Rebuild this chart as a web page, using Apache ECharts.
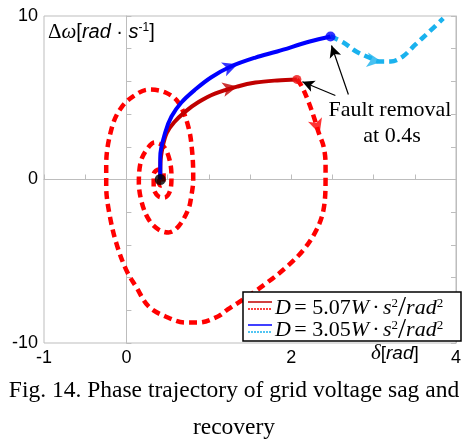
<!DOCTYPE html>
<html>
<head>
<meta charset="utf-8">
<script src="https://cdn.jsdelivr.net/npm/echarts@6/dist/echarts.min.js"></script>
<style>
  html, body { margin: 0; padding: 0; background: #fff; }
  #chart { width: 464px; height: 444px; }
</style>
</head>
<body>
<div id="chart"></div>
<script>
// Phase trajectories: δ [rad] on x, Δω [rad/s] on y

// D = 5.07: during the sag (solid) and after fault removal (dashed)
const sagD507 = [
  [0.411, 0], [0.413, 1.0], [0.44, 2.0], [0.49, 2.85], [0.58, 3.5],
  [0.715, 4.15], [0.871, 4.72], [1.074, 5.25], [1.35, 5.69], [1.566, 5.93],
  [1.830, 6.06], [2.069, 6.12]
];
const recoveryD507 = [
  [2.069, 6.12], [2.129, 5.69], [2.213, 4.71], [2.285, 3.67], [2.333, 2.87],
  [2.393, 2.02], [2.417, 0.92], [2.417, 0], [2.393, -1.83], [2.309, -3.06],
  [2.153, -4.28], [1.950, -5.32], [1.710, -6.30], [1.470, -7.16], [1.230, -7.95],
  [1.110, -8.38], [0.870, -8.75], [0.715, -8.75], [0.475, -8.38], [0.271, -7.77],
  [0.115, -6.54], [-0.005, -5.50], [-0.125, -3.85], [-0.209, -2.02], [-0.245, -0.43],
  [-0.245, 0.92], [-0.173, 3.24], [-0.053, 4.46], [0.115, 5.20], [0.271, 5.50],
  [0.475, 5.32], [0.631, 4.71], [0.751, 3.24], [0.799, 1.65], [0.811, 0],
  [0.787, -1.04], [0.751, -1.83], [0.631, -2.87], [0.511, -3.24], [0.391, -3.06],
  [0.271, -2.45], [0.187, -1.41], [0.151, -0.18], [0.175, 1.10], [0.247, 1.83],
  [0.343, 2.26], [0.451, 2.02], [0.523, 1.22], [0.547, 0.18], [0.535, -0.61],
  [0.463, -1.10], [0.391, -1.04], [0.331, -0.49], [0.331, 0.31], [0.391, 0.61],
  [0.451, 0.37], [0.451, -0.24], [0.415, -0.37], [0.391, -0.12], [0.411, 0]
];

// D = 3.05: during the sag (solid) and after fault removal (dashed)
const sagD305 = [
  [0.411, 0], [0.411, 1.41], [0.471, 2.87], [0.547, 3.85], [0.667, 4.71],
  [0.835, 5.50], [1.026, 6.24], [1.266, 6.91], [1.566, 7.46], [1.830, 7.83],
  [2.225, 8.44], [2.477, 8.75]
];
const recoveryD305 = [
  [2.477, 8.75], [2.633, 8.38], [2.789, 7.83], [2.945, 7.46], [3.065, 7.22],
  [3.209, 7.22], [3.353, 7.52], [3.509, 8.26], [3.665, 8.99], [3.845, 9.85]
];

// Direction arrows placed on the trajectories
const arrowSagD305 = [1.35, 7.05];
const arrowSagD507 = [1.35, 5.69];
const arrowRecD305 = [3.10, 7.20];
const arrowRecD507 = [2.345, 2.80];

// Key states
const equilibrium = [0.411, 0];
const clearD507 = [2.069, 6.12];
const clearD305 = [2.477, 8.75];

// Annotation leader lines: [from, to]
const noteToD305 = [[2.694, 5.20], [2.489, 8.20]];
const noteToD507 = [[2.536, 5.14], [2.135, 5.98]];

// Axis ticks
const xLabelled = [-1, 0, 2, 4];
const yLabelled = [-10, 0, 10];

const axisGray = '#bdbdbd';
const serif = '"Liberation Serif", "Times New Roman", serif';
const sans = '"Liberation Sans", Arial, sans-serif';

const chart = echarts.init(document.getElementById('chart'), null, { renderer: 'canvas' });

const dashed = { width: 4.5, type: [8, 5] };

function legendRich() {
  return {
    i: { fontFamily: serif, fontStyle: 'italic', fontSize: 22, fill: '#000', lineHeight: 22 },
    n: { fontFamily: serif, fontSize: 22, fill: '#000', lineHeight: 22 },
    sup: { fontFamily: serif, fontSize: 13, fill: '#000', verticalAlign: 'top', lineHeight: 22 },
    sl: { fontFamily: serif, fontSize: 29, fill: '#000', lineHeight: 22 }
  };
}

chart.setOption({
  animation: false,
  backgroundColor: '#fff',
  grid: {
    left: 44, right: 3, top: 16, bottom: 101,
    show: true, borderColor: axisGray, borderWidth: 1, backgroundColor: 'transparent'
  },
  xAxis: {
    type: 'value', min: -1, max: 4, interval: 0.5,
    axisLine: { show: true, lineStyle: { color: axisGray, width: 1 } },
    axisTick: { show: true, inside: true, length: 5, lineStyle: { color: axisGray } },
    splitLine: { show: false },
    axisLabel: {
      color: '#000', fontFamily: sans, fontSize: 18, margin: 6,
      formatter: v => (xLabelled.includes(v) ? String(v) : '')
    }
  },
  yAxis: [{
    type: 'value', min: -10, max: 10, interval: 2,
    axisLine: { show: true, lineStyle: { color: axisGray, width: 1 } },
    axisTick: { show: true, inside: true, length: 5, lineStyle: { color: axisGray } },
    splitLine: { show: false },
    axisLabel: {
      color: '#000', fontFamily: sans, fontSize: 18, margin: 6,
      formatter: v => (yLabelled.includes(v) ? String(v) : '')
    }
  }, {
    type: 'value', min: -10, max: 10, interval: 2, position: 'right',
    axisLine: { show: true, lineStyle: { color: axisGray, width: 1 } },
    axisTick: { show: true, inside: true, length: 5, lineStyle: { color: axisGray } },
    splitLine: { show: false },
    axisLabel: { show: false }
  }],
  series: [
    {
      name: 'recovery D=5.07', type: 'line', data: recoveryD507, smooth: 0.35,
      showSymbol: false, lineStyle: Object.assign({ color: '#ff0000' }, dashed), z: 2,
      markLine: {
        silent: true, symbol: ['none', 'arrow'], symbolSize: [9, 12],
        label: { show: false },
        lineStyle: { color: '#000', width: 1.2, type: 'solid' },
        data: [
          [{ coord: noteToD305[0] }, { coord: noteToD305[1] }],
          [{ coord: noteToD507[0] }, { coord: noteToD507[1] }]
        ]
      }
    },
    {
      name: 'recovery D=3.05', type: 'line', data: recoveryD305, smooth: 0.35,
      showSymbol: false, lineStyle: Object.assign({ color: '#1ab2ee' }, dashed), z: 2
    },
    {
      name: 'sag D=5.07', type: 'line', data: sagD507, smooth: 0.35,
      showSymbol: false, lineStyle: { color: '#c00000', width: 4 }, z: 3
    },
    {
      name: 'sag D=3.05', type: 'line', data: sagD305, smooth: 0.35,
      showSymbol: false, lineStyle: { color: '#0000ff', width: 4 }, z: 4
    },
    {
      name: 'direction', type: 'scatter', symbol: 'arrow', symbolSize: [11, 15], z: 5,
      data: [
        { value: arrowSagD305, symbolRotate: -70, itemStyle: { color: '#0000ff' } },
        { value: arrowSagD507, symbolRotate: -78, itemStyle: { color: '#c00000' } },
        { value: arrowRecD305, symbolRotate: -98, itemStyle: { color: '#1ab2ee' } },
        { value: arrowRecD507, symbolRotate: -162, itemStyle: { color: '#ff0000' } }
      ]
    },
    {
      name: 'states', type: 'scatter', z: 6,
      data: [
        { value: clearD507, symbolSize: 9, itemStyle: { color: '#ee1111' } },
        { value: clearD305, symbolSize: 10, itemStyle: { color: '#0000ff' } },
        { value: equilibrium, symbolSize: 11, itemStyle: { color: '#000' } }
      ]
    }
  ],
  graphic: [
    // y-axis title
    {
      type: 'text', left: 48, top: 22, z: 10,
      style: {
        text: '{g|Δ}{gi|ω}{n|[}{ni|rad}{n| · }{ni|s}{sup|-1}{n|]}',
        rich: {
          g: { fontFamily: serif, fontSize: 21, fill: '#000' },
          gi: { fontFamily: serif, fontStyle: 'italic', fontSize: 21, fill: '#000' },
          n: { fontFamily: sans, fontSize: 20, fill: '#000' },
          ni: { fontFamily: sans, fontStyle: 'italic', fontSize: 20, fill: '#000' },
          sup: { fontFamily: sans, fontSize: 12, fill: '#000', verticalAlign: 'top' }
        }
      }
    },
    // x-axis title
    {
      type: 'text', left: 371, top: 343, z: 10,
      style: {
        text: '{gi|δ}{n|[}{ni|rad}{n|]}',
        rich: {
          gi: { fontFamily: serif, fontStyle: 'italic', fontSize: 21, fill: '#000' },
          n: { fontFamily: sans, fontSize: 19, fill: '#000' },
          ni: { fontFamily: sans, fontStyle: 'italic', fontSize: 19, fill: '#000' }
        }
      }
    },
    // annotation
    {
      type: 'text', x: 390, y: 110, z: 10,
      style: { text: 'Fault removal', fontFamily: serif, fontSize: 22, fill: '#000', align: 'center', verticalAlign: 'middle' }
    },
    {
      type: 'text', x: 392, y: 136, z: 10,
      style: { text: 'at 0.4s', fontFamily: serif, fontSize: 22, fill: '#000', align: 'center', verticalAlign: 'middle' }
    },
    // legend box
    {
      type: 'rect', z: 20, shape: { x: 243, y: 292, width: 218, height: 49 },
      style: { fill: '#fff', stroke: '#000', lineWidth: 1.5 }
    },
    { type: 'line', z: 21, shape: { x1: 248, y1: 302, x2: 272, y2: 302 }, style: { stroke: '#c00000', lineWidth: 1.5 } },
    { type: 'line', z: 21, shape: { x1: 248, y1: 309, x2: 272, y2: 309 }, style: { stroke: '#ff0000', lineWidth: 1.5, lineDash: [2, 1] } },
    { type: 'line', z: 21, shape: { x1: 248, y1: 325, x2: 272, y2: 325 }, style: { stroke: '#0000ff', lineWidth: 1.5 } },
    { type: 'line', z: 21, shape: { x1: 248, y1: 332, x2: 272, y2: 332 }, style: { stroke: '#1ab2ee', lineWidth: 1.5, lineDash: [2, 1] } },
    {
      type: 'text', left: 275, top: 294, z: 22,
      style: {
        text: '{i|D} {n|= 5.07}{i|W} {n|·} {i|s}{sup|2}{sl|/}{i|rad}{sup|2}',
        rich: legendRich()
      }
    },
    {
      type: 'text', left: 275, top: 316, z: 22,
      style: {
        text: '{i|D} {n|= 3.05}{i|W} {n|·} {i|s}{sup|2}{sl|/}{i|rad}{sup|2}',
        rich: legendRich()
      }
    },
    // caption
    {
      type: 'text', x: 234, y: 391, z: 10,
      style: { text: 'Fig. 14. Phase trajectory of grid voltage sag and', fontFamily: serif, fontSize: 23.5, fill: '#000', align: 'center', verticalAlign: 'middle' }
    },
    {
      type: 'text', x: 234, y: 428, z: 10,
      style: { text: 'recovery', fontFamily: serif, fontSize: 23.5, fill: '#000', align: 'center', verticalAlign: 'middle' }
    }
  ]
});
</script>
</body>
</html>
